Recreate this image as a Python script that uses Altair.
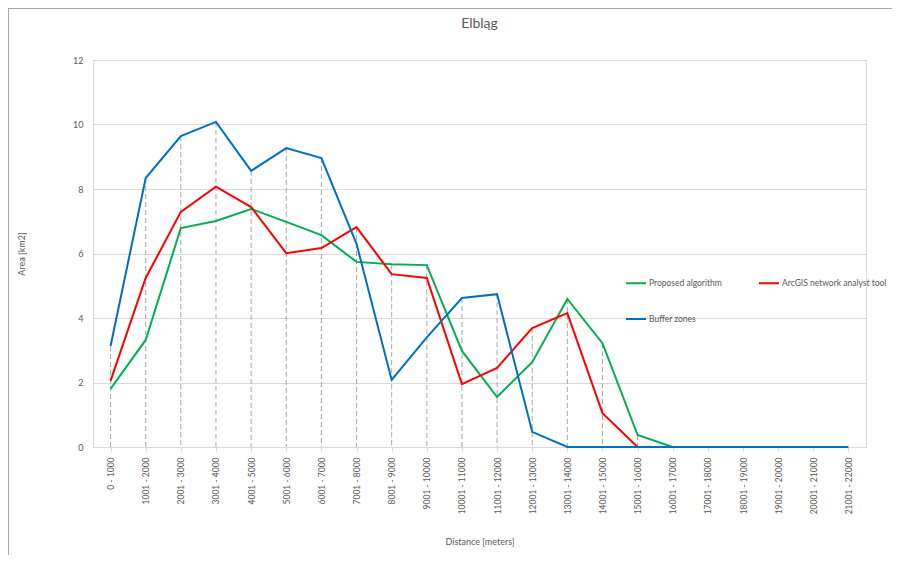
import altair as alt
import pandas as pd

categories = ["0 - 1000", "1001 - 2000", "2001 - 3000", "3001 - 4000", "4001 - 5000",
              "5001 - 6000", "6001 - 7000", "7001 - 8000", "8001 - 9000", "9001 - 10000",
              "10001 - 11000", "11001 - 12000", "12001 - 13000", "13001 - 14000",
              "14001 - 15000", "15001 - 16000", "16001 - 17000", "17001 - 18000",
              "18001 - 19000", "19001 - 20000", "20001 - 21000", "21001 - 22000"]

series_names = ["Proposed algorithm", "ArcGIS network analyst tool", "Buffer zones"]
series_colors = ["#00B050", "#FF0000", "#0070C0"]
# legend order (column-major fill in a 2-column grid)
legend_order = ["Proposed algorithm", "Buffer zones", "ArcGIS network analyst tool"]
legend_colors = ["#00B050", "#0070C0", "#FF0000"]

proposed = [1.80, 3.32, 6.79, 7.01, 7.38, 6.98, 6.57, 5.74, 5.67, 5.64, 2.98, 1.55,
            2.63, 4.59, 3.22, 0.37, 0.0]
arcgis = [2.05, 5.24, 7.29, 8.07, 7.44, 6.01, 6.17, 6.82, 5.36, 5.24, 1.95, 2.45,
          3.69, 4.15, 1.05, 0.0]
buffer = [3.13, 8.34, 9.64, 10.08, 8.56, 9.27, 8.96, 6.30, 2.08, 3.40, 4.62, 4.74,
          0.47, 0.0, 0.0, 0.0, 0.0, 0.0, 0.0, 0.0, 0.0, 0.0]

rows = []
for name, vals in zip(series_names, [proposed, arcgis, buffer]):
    for i, v in enumerate(vals):
        rows.append({"cat": categories[i], "series": name, "value": v, "order": i})
df = pd.DataFrame(rows)

label_color = "#595959"
font = "Lato"

x_enc = alt.X("cat:N", sort=categories,
              scale=alt.Scale(domain=categories, type="point", padding=0.5),
              axis=alt.Axis(title="Distance [meters]", labelAngle=270, labelFontSize=8.5,
                            labelColor=label_color, labelPadding=6, tickColor="#D9D9D9",
                            tickSize=4, domainColor="#D9D9D9", grid=False,
                            titleFontSize=9, titleFontWeight="normal", titleColor=label_color,
                            titlePadding=24, labelFont=font, titleFont=font))

base = alt.Chart(df)

drops = base.transform_aggregate(
    maxv="max(value)", groupby=["cat"]
).mark_rule(color="#A6A6A6", strokeDash=[5, 3], strokeWidth=1).encode(
    x=x_enc,
    y=alt.Y("maxv:Q"),
    y2=alt.datum(0),
)

lines = base.mark_line(strokeWidth=2).encode(
    x=x_enc,
    y=alt.Y("value:Q", scale=alt.Scale(domain=[0, 12]),
            axis=alt.Axis(title="Area [km2]", values=[0, 2, 4, 6, 8, 10, 12],
                          labelFontSize=9, labelColor=label_color, domain=False,
                          ticks=False, labelPadding=10, gridColor="#D9D9D9",
                          titleFontSize=9, titleFontWeight="normal", titleColor=label_color,
                          titlePadding=46, labelFont=font, titleFont=font)),
    color=alt.Color("series:N",
                    scale=alt.Scale(domain=legend_order, range=legend_colors),
                    legend=alt.Legend(title=None, orient="none", legendX=532, legendY=212,
                                      columns=2, columnPadding=33, rowPadding=20,
                                      symbolType="stroke", symbolSize=400,
                                      symbolStrokeWidth=2, labelFontSize=8.5,
                                      labelColor=label_color, labelOffset=2,
                                      labelFont=font)),
    order=alt.Order("order:Q"),
)

frame = alt.Chart(pd.DataFrame({"k": [0]})).mark_rule(color="#A6A6A6", strokeWidth=1).encode(
    x=alt.value(-84.5), x2=alt.value(-84.5), y=alt.value(-52), y2=alt.value(520)
) + alt.Chart(pd.DataFrame({"k": [0]})).mark_rule(color="#A6A6A6", strokeWidth=1).encode(
    x=alt.value(-85), x2=alt.value(800), y=alt.value(-51.5), y2=alt.value(-51.5)
)

chart = alt.layer(drops, lines, frame).properties(
    width=773, height=387,
    title=alt.TitleParams("Elbląg", fontSize=14, fontWeight="normal", color=label_color,
                          anchor="middle", offset=-23, font=font),
    autosize=alt.AutoSizeParams(type="none"),
    padding={"left": 85, "top": 52, "right": 26, "bottom": 108},
).configure_view(stroke=None).configure(background="white")

chart.save("out.html", embed_options={"renderer": "svg", "actions": False})
